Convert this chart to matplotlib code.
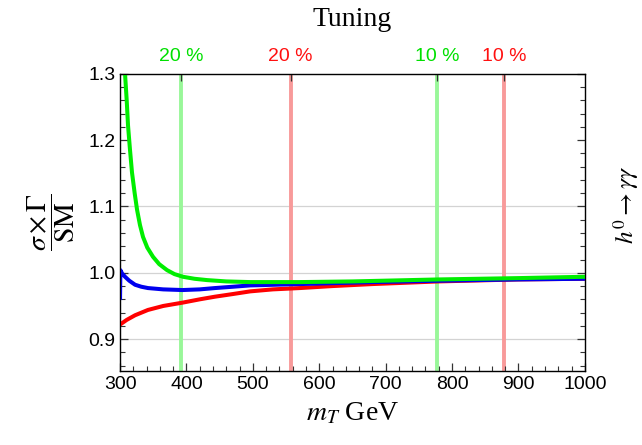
import matplotlib
matplotlib.use("Agg")
import matplotlib.pyplot as plt
from matplotlib.ticker import MultipleLocator

# ---- data ----
green_x = [307.5, 310, 312, 315, 318, 322, 325.6, 330, 334.6, 341, 349.7, 359, 370.8, 382,
           394.8, 412, 431, 460, 496, 571, 650, 780, 900, 1000]
green_y = [1.300, 1.260, 1.222, 1.185, 1.151, 1.120, 1.095, 1.072, 1.054, 1.038, 1.024, 1.013,
           1.004, 0.998, 0.994, 0.991, 0.989, 0.987, 0.986, 0.986, 0.987, 0.990, 0.992, 0.994]

blue_x = [300, 300.5, 303, 307.5, 314, 322.6, 332, 342, 365, 394, 420, 443, 470, 496,
          571, 680, 780, 900, 1000]
blue_y = [0.962, 1.004, 0.999, 0.994, 0.988, 0.982, 0.979, 0.977, 0.975, 0.974, 0.975, 0.977,
          0.979, 0.981, 0.983, 0.986, 0.988, 0.990, 0.991]

red_x = [300, 310, 322.6, 342, 365, 394, 420, 443, 470, 496, 530, 571, 620, 680, 780, 900, 1000]
red_y = [0.922, 0.929, 0.936, 0.944, 0.950, 0.955, 0.960, 0.964, 0.968, 0.972, 0.975, 0.977,
         0.980, 0.983, 0.987, 0.990, 0.991]

tuning_pos = [392, 557, 778, 878]
tuning_labels = ["20 %", "20 %", "10 %", "10 %"]
tuning_kind = ["green", "red", "green", "red"]

xticks = [300, 400, 500, 600, 700, 800, 900, 1000]
yticks = [0.9, 1.0, 1.1, 1.2, 1.3]

# ---- styling ----
plt.rcParams['mathtext.fontset'] = 'stix'
sans = ['Liberation Sans', 'DejaVu Sans']
serif = ['Liberation Serif', 'DejaVu Serif']

line_col = {"green": "#00ee00", "red": "#ff0000", "blue": "#0000ee"}
vline_col = {"green": "#99f799", "red": "#f89a9a"}
label_col = {"green": "#00e000", "red": "#ff1010"}

fig = plt.figure(figsize=(6.42, 4.45), dpi=100)
ax = fig.add_axes([0.187, 0.1663, 0.724, 0.6680])

for xv, k in zip(tuning_pos, tuning_kind):
    ax.axvline(xv, color=vline_col[k], lw=2.8, zorder=1)

for yv in [0.9, 1.0, 1.1]:
    ax.axhline(yv, color="#d3d3d3", lw=0.9, zorder=0.5)

ax.plot(red_x, red_y, color=line_col["red"], lw=2.9, zorder=3, solid_joinstyle='round')
ax.plot(blue_x, blue_y, color=line_col["blue"], lw=2.9, zorder=4, solid_joinstyle='round')
ax.plot(green_x, green_y, color=line_col["green"], lw=2.9, zorder=5, solid_joinstyle='round')

ax.set_xlim(300, 1000)
ax.set_ylim(0.852, 1.3)
ax.set_xticks(xticks)
ax.set_yticks(yticks)
ax.xaxis.set_minor_locator(MultipleLocator(20))
ax.yaxis.set_minor_locator(MultipleLocator(0.02))
ax.set_yticklabels([f"{v:.1f}" for v in yticks])
ax.tick_params(which='both', direction='in', top=False, right=True, labelsize=14, color='#333333')
ax.tick_params(which='major', length=6, width=0.9)
ax.tick_params(which='minor', length=3.5, width=0.8)
for lab in ax.get_xticklabels() + ax.get_yticklabels():
    lab.set_family(sans)
for sp in ax.spines.values():
    sp.set_color('#333333')
    sp.set_linewidth(1.0)

ax.set_xlabel(r'$m_T$ GeV', fontsize=20, family=serif, labelpad=6)
ax.set_ylabel(r'$\dfrac{\sigma\times\Gamma}{\mathrm{SM}}$', fontsize=20, labelpad=8)

# top axis with tuning labels
ax2 = ax.twiny()
ax2.set_xlim(ax.get_xlim())
ax2.set_xticks(tuning_pos)
ax2.set_xticklabels(tuning_labels)
ax2.tick_params(axis='x', direction='in', length=5, width=0.9, labelsize=14, color='#333333', pad=6)
for lab, k in zip(ax2.get_xticklabels(), tuning_kind):
    lab.set_color(label_col[k])
    lab.set_family(sans)
ax2.set_title('Tuning', fontsize=20, family=serif, pad=16)

fig.text(0.975, 0.54, r'$h^0\rightarrow\gamma\gamma$', rotation=90, fontsize=18,
         ha='center', va='center')

fig.savefig('out.png', dpi=100)
